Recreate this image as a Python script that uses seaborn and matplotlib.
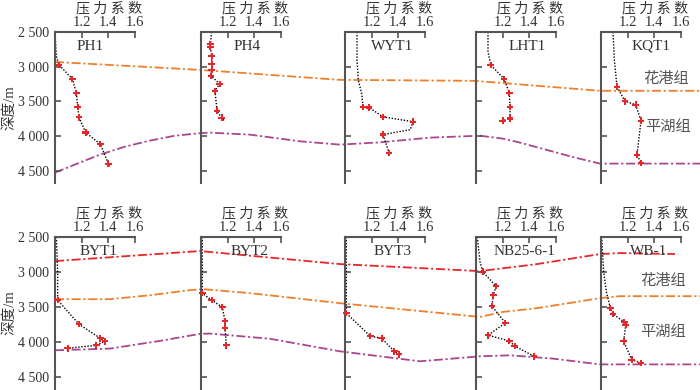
import numpy as np
import pandas as pd
import matplotlib
matplotlib.use("Agg")
import matplotlib.pyplot as plt
import seaborn as sns
from matplotlib.ticker import FuncFormatter

# ---- wells (pressure coefficient vs depth, m) ----
top_wells = ["PH1", "PH4", "WYT1", "LHT1", "KQT1"]
bottom_wells = ["BYT1", "BYT2", "BYT3", "NB25-6-1", "WB-1"]

ph1_coef = [1.00, 1.01, 1.03, 1.13, 1.16, 1.17, 1.18, 1.23, 1.34, 1.40, 1.41]
ph1_depth = [2500, 2850, 2975, 3176, 3378, 3580, 3733, 3950, 4118, 4400, 4460]
ph1_meas = [2, 3, 4, 5, 6, 7, 8, 9]

ph4_coef = [1.08, 1.07, 1.07, 1.08, 1.08, 1.08, 1.075, 1.14, 1.105, 1.12, 1.155, 1.18]
ph4_depth = [2500, 2673, 2716, 2845, 2960, 3047, 3133, 3248, 3349, 3637, 3737, 3795]
ph4_meas = [1, 2, 3, 4, 5, 6, 7, 8, 9, 10]

wyt1_coef = [1.09, 1.09, 1.10, 1.125, 1.135, 1.18, 1.285, 1.51, 1.49, 1.285, 1.33]
wyt1_depth = [2500, 2900, 3200, 3390, 3580, 3590, 3725, 3795, 3910, 3980, 4245]
wyt1_meas = [4, 5, 6, 7, 9, 10]

lht1_coef = [1.09, 1.09, 1.11, 1.21, 1.25, 1.255, 1.255, 1.20]
lht1_depth = [2500, 2780, 2975, 3176, 3378, 3580, 3750, 3780]
lht1_meas = [2, 3, 4, 5, 6, 7]

kqt1_coef = [1.09, 1.10, 1.12, 1.18, 1.26, 1.30, 1.29, 1.27, 1.30]
kqt1_depth = [2500, 2900, 3290, 3500, 3550, 3780, 3950, 4270, 4390]
kqt1_meas = [2, 3, 4, 5, 7, 8]

byt1_coef = [1.01, 1.02, 1.02, 1.18, 1.34, 1.375, 1.31, 1.095]
byt1_depth = [2500, 3000, 3400, 3743, 3943, 3986, 4043, 4086]
byt1_meas = [2, 3, 4, 5, 6, 7]

byt2_coef = [1.01, 1.01, 1.08, 1.16, 1.18, 1.18, 1.19]
byt2_depth = [2500, 3300, 3400, 3500, 3700, 3800, 4043]
byt2_meas = [1, 2, 3, 4, 5, 6]

byt3_coef = [1.01, 1.01, 1.19, 1.275, 1.37, 1.405, 1.42]
byt3_depth = [2500, 3586, 3914, 3943, 4129, 4171, 4185]
byt3_meas = [1, 2, 3, 4, 5]

nb25_coef = [1.01, 1.03, 1.05, 1.15, 1.13, 1.12, 1.22, 1.09, 1.25, 1.29, 1.435]
nb25_depth = [2500, 2853, 2995, 3200, 3330, 3486, 3724, 3900, 3981, 4052, 4200]
nb25_meas = [2, 3, 4, 5, 6, 7, 8, 9, 10]

wb1_coef = [1.005, 1.02, 1.04, 1.07, 1.09, 1.175, 1.185, 1.17, 1.23, 1.30]
wb1_depth = [2500, 3000, 3280, 3514, 3600, 3710, 3757, 3986, 4248, 4295]
wb1_meas = [3, 4, 5, 6, 7, 8, 9]

# ---- formation boundaries (section position, depth m) ----
top_orange_pos = [55, 200, 340, 475, 600, 700]
top_orange_depth = [2932, 3047, 3191, 3205, 3349, 3349]

top_purple_pos = [55, 80, 100, 125, 150, 175, 200, 210, 250, 300, 340, 380, 430, 480,
                  503, 520, 553, 575, 600, 700]
top_purple_depth = [4529, 4385, 4270, 4155, 4068, 3997, 3961, 3953, 3982, 4078, 4126,
                    4093, 4025, 3997, 4040, 4097, 4227, 4313, 4400, 4400]

bot_red_pos = [55, 200, 340, 480, 537, 600, 620, 675]
bot_red_depth = [2843, 2700, 2886, 2986, 2886, 2743, 2729, 2743]

bot_orange_pos = [55, 110, 150, 190, 203, 250, 340, 480, 503, 537, 600, 620, 700]
bot_orange_depth = [3386, 3386, 3330, 3257, 3243, 3300, 3443, 3639, 3567, 3514, 3371,
                    3343, 3343]

bot_purple_pos = [55, 110, 160, 200, 210, 270, 340, 420, 480, 510, 553, 600, 700]
bot_purple_depth = [4114, 4090, 3980, 3880, 3876, 3950, 4129, 4271, 4200, 4186, 4233,
                    4315, 4315]

sns.set_style("ticks")
plt.rcParams['font.family'] = ['Liberation Serif', 'Noto Sans CJK SC']
plt.rcParams['axes.edgecolor'] = '#555555'
plt.rcParams['xtick.color'] = '#555555'
plt.rcParams['ytick.color'] = '#555555'
plt.rcParams['text.color'] = '#333333'
plt.rcParams['xtick.labelcolor'] = '#333333'
plt.rcParams['ytick.labelcolor'] = '#333333'

W, H = 700, 390
fig = plt.figure(figsize=(7, 3.9), dpi=100)

col_px = [55, 201, 345, 476, 601]
rows = [(32, 183), (237, 390)]  # top / bottom pixel of each row
ylim = (4680, 2500)
FS = 11

top_data = [(ph1_coef, ph1_depth, ph1_meas), (ph4_coef, ph4_depth, ph4_meas),
            (wyt1_coef, wyt1_depth, wyt1_meas), (lht1_coef, lht1_depth, lht1_meas),
            (kqt1_coef, kqt1_depth, kqt1_meas)]
bot_data = [(byt1_coef, byt1_depth, byt1_meas), (byt2_coef, byt2_depth, byt2_meas),
            (byt3_coef, byt3_depth, byt3_meas), (nb25_coef, nb25_depth, nb25_meas),
            (wb1_coef, wb1_depth, wb1_meas)]
name_x = [[0.44, 0.58, 0.59, 0.64, 0.63], [0.54, 0.61, 0.60, 0.60, 0.59]]

fmt = FuncFormatter(lambda v, p: f"{int(v) // 1000} {int(v) % 1000:03d}")


def boundary(ax, pos, depth, color):
    df = pd.DataFrame({"pos": pos, "depth": depth})
    sns.lineplot(data=df, x="pos", y="depth", sort=False, estimator=None, ax=ax,
                 color=color, lw=1.3, linestyle=(0, (5, 1.5, 1.2, 1.5)))


def draw_well(ax, coef, depth, meas, name, nx, first, row_h):
    df = pd.DataFrame({"coef": coef, "depth": depth})
    sns.lineplot(data=df, x="coef", y="depth", sort=False, estimator=None, ax=ax,
                 color="k", lw=1.0, linestyle=(0, (1, 1.2)), clip_on=False)
    sns.scatterplot(data=df.iloc[meas], x="coef", y="depth", ax=ax, marker="P", s=22,
                    color="#e8262a", edgecolor="none", zorder=4, clip_on=False)
    ax.set_xlim(1.0, 1.6)
    ax.set_ylim(*ylim)
    ax.patch.set_visible(False)
    for s in ["right", "bottom"]:
        ax.spines[s].set_visible(False)
    for s in ["left", "top"]:
        ax.spines[s].set_linewidth(1.5)
    ax.xaxis.tick_top()
    ax.set_xticks([1.2, 1.4, 1.6])
    ax.set_xticklabels(["1.2", "1.4", "1.6"])
    ax.set_yticks([2500, 3000, 3500, 4000, 4500])
    ax.tick_params(axis="x", direction="in", length=4, width=1.2, pad=2, labelsize=10.5)
    ax.tick_params(axis="y", direction="in", length=4, width=1.2, pad=4, labelsize=10)
    ax.set_xlabel("")
    ax.text(0.68, 1 + 23 / row_h, "压 力 系 数", transform=ax.transAxes, ha="center",
            va="center", fontsize=10)
    if first:
        ax.yaxis.set_major_formatter(fmt)
    else:
        ax.set_yticklabels([])
    ax.set_ylabel("")
    ax.text(nx, 0.95, name, transform=ax.transAxes, ha="center", va="top", fontsize=FS)


for r, (ytop, ybot) in enumerate(rows):
    bottom = 1 - ybot / H
    height = (ybot - ytop) / H
    bg = fig.add_axes([0, bottom, 1, height])
    bg.set_xlim(0, W)
    bg.set_ylim(*ylim)
    bg.axis("off")
    if r == 0:
        boundary(bg, top_orange_pos, top_orange_depth, "#f07f2a")
        boundary(bg, top_purple_pos, top_purple_depth, "#a8478e")
    else:
        boundary(bg, bot_red_pos, bot_red_depth, "#e8262a")
        boundary(bg, bot_orange_pos, bot_orange_depth, "#f07f2a")
        boundary(bg, bot_purple_pos, bot_purple_depth, "#a8478e")

    names = top_wells if r == 0 else bottom_wells
    data = top_data if r == 0 else bot_data
    for i, (name, (coef, depth, meas)) in enumerate(zip(names, data)):
        ax = fig.add_axes([col_px[i] / W, bottom, 80 / W, height])
        draw_well(ax, coef, depth, meas, name, name_x[r][i], i == 0, ybot - ytop)

    fig.text(9 / W, 1 - (ytop + 76) / H, "深度/m", rotation=90, ha="center",
             va="center", fontsize=10.5)

for x, y, label in [(666, 79, "花港组"), (668, 127, "平湖组"),
                    (663, 281, "花港组"), (663, 332, "平湖组")]:
    fig.text(x / W, 1 - y / H, label, ha="center", va="center", fontsize=FS,
             color="#555555")

fig.savefig("out.png", dpi=100)
